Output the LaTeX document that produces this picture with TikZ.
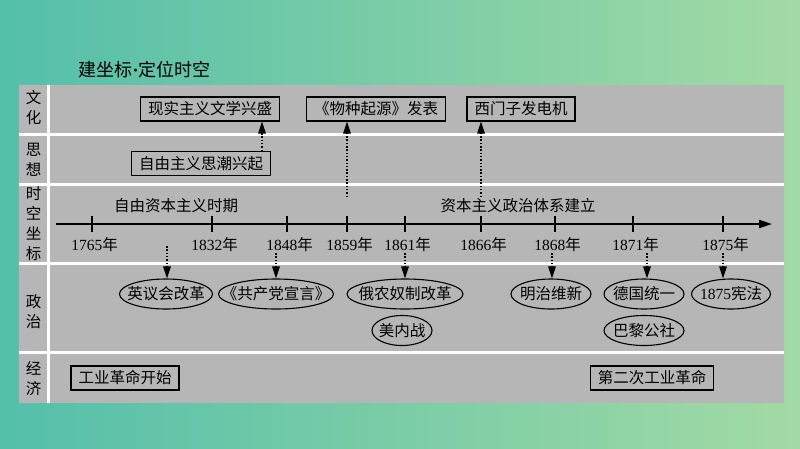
\documentclass[tikz,border=0pt]{standalone}
\usepackage{fontspec}
\setmainfont{Liberation Serif}
\newfontfamily\cjk{Noto Sans CJK SC}
\usetikzlibrary{shapes.geometric,arrows.meta}
\definecolor{bgl}{RGB}{84,191,170}
\definecolor{bgr}{RGB}{162,218,164}
\definecolor{panel}{RGB}{182,182,182}
\newcommand{\nian}[1]{{\rmfamily #1}年}

\begin{document}
\begin{tikzpicture}
    [x=1pt,y=-1pt,
     every node/.style={font=\cjk\fontsize{15.5}{20}\selectfont},
     box/.style={draw=black,line width=1.1pt,inner xsep=7.5pt,inner ysep=0pt,minimum height=24pt},
     oval/.style={shape=ellipse,draw=black,line width=1.1pt,inner xsep=-16pt,inner ysep=0pt,minimum height=30pt},
     pre/.style={-{Triangle[length=12pt,width=7.5pt]},dash pattern=on 1.5pt off 1.8pt,line width=1.3pt},
     sep/.style={white,line width=3pt}]
    \useasboundingbox (0,0) rectangle (800,448);
    \shade [left color=bgl,right color=bgr] (0,0) rectangle (800,448);
    \fill [panel] (19,85) rectangle (784,403);
    \draw [sep] (48,85) -- (48,403);
    \foreach \y in {134.5,184,263.5,352.5}
      \draw [sep] (19,\y) -- (784,\y);

    \node [anchor=west,font=\cjk\fontsize{18}{20}\selectfont] (title) at (75,70) {建坐标{\rmfamily\bfseries ·}定位时空};

    % row labels
    \node [align=center] (r1) at (33.5,108) {文\\化};
    \node [align=center] (r2) at (33.5,160) {思\\想};
    \node [align=center] (r3) at (33.5,224) {时\\空\\坐\\标};
    \node [align=center] (r4) at (33.5,312) {政\\治};
    \node [align=center] (r5) at (33.5,379) {经\\济};

    % time axis
    \coordinate (t0) at (56,224);
    \coordinate (t1) at (772,224);
    \draw [line width=2pt,-{Triangle[length=13pt,width=8pt]}] (t0) -- (t1);
    \foreach \x/\yr in {92/1765,212/1832,287/1848,347/1859,405/1861,481/1866,555/1868,633/1871,723/1875}{
      \draw [line width=1.5pt] (\x,216) -- (\x,232);
      \node (y\yr) at (\x+2.5,245) {\nian{\yr}};
    }
    \node (p1) at (176,206) {自由资本主义时期};
    \node (p2) at (518,206) {资本主义政治体系建立};

    % culture and thought
    \node [box] (xs) at (210,109) {现实主义文学兴盛};
    \node [box] (wz) at (376,109) {《物种起源》发表};
    \node [box] (xm) at (521,109) {西门子发电机};
    \node [box] (zy) at (201,163.5) {自由主义思潮兴起};
    \coordinate (a1) at (262,151);
    \coordinate (a2) at (347,197);
    \coordinate (a3) at (481,197);
    \draw [pre] (a1) -- (a1 |- xs.south);
    \draw [pre] (a2) -- (a2 |- wz.south);
    \draw [pre] (a3) -- (a3 |- xm.south);

    % politics
    \node [oval,minimum width=93pt] (yy) at (166,294) {英议会改革};
    \node [oval,minimum width=115pt] (gc) at (276,294) {《共产党宣言》};
    \node [oval,minimum width=116pt] (en) at (405,294) {俄农奴制改革};
    \node [oval,minimum width=60pt] (mn) at (402,330.5) {美内战};
    \node [oval,minimum width=80pt] (mz) at (551,294) {明治维新};
    \node [oval,minimum width=80pt] (dg) at (644,294) {德国统一};
    \node [oval,minimum width=80pt] (bl) at (644,330.5) {巴黎公社};
    \node [oval,minimum width=79pt] (xf) at (731,294) {{\rmfamily 1875}宪法};
    \coordinate (d1) at (167,246);
    \coordinate (d2) at (276,253);
    \coordinate (d3) at (405,253);
    \coordinate (d4) at (552,253);
    \coordinate (d5) at (647,253);
    \coordinate (d6) at (723,253);
    \draw [pre] (d1) -- (d1 |- yy.north);
    \draw [pre] (d2) -- (gc.north);
    \draw [pre] (d3) -- (en.north);
    \draw [pre] (d4) -- (d4 |- mz.north);
    \draw [pre] (d5) -- (d5 |- dg.north);
    \draw [pre] (d6) -- (d6 |- xf.north);

    % economy
    \node [box] (gy) at (125,378) {工业革命开始};
    \node [box] (de) at (652,378) {第二次工业革命};
  \end{tikzpicture}
\end{document}
